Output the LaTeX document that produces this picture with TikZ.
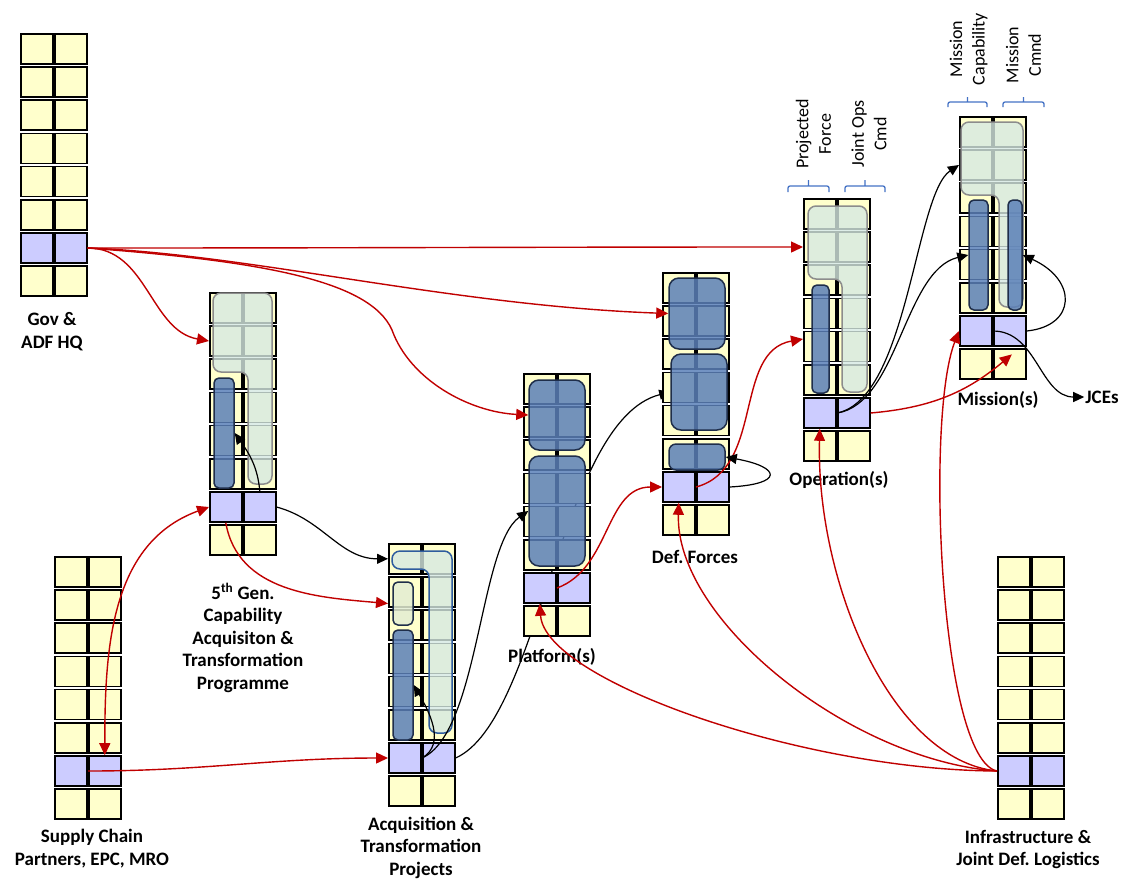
\documentclass[tikz,border=0pt]{standalone}
\usepackage{fontspec}
\setmainfont{Carlito}
\usetikzlibrary{arrows.meta,calc}
\pgfdeclarelayer{background}
\pgfsetlayers{background,main}
\frenchspacing

\definecolor{cellyellow}{HTML}{FFFFCC}
\definecolor{cellpurple}{HTML}{CCCCFF}
\definecolor{boxblue}{HTML}{5B80B8}
\definecolor{boxedge}{HTML}{1F2E4A}
\definecolor{panelfill}{HTML}{D6E9E2}
\definecolor{paneledge}{HTML}{8C8C8C}
\definecolor{panelblue}{HTML}{2E5C9E}
\definecolor{barfill}{HTML}{E3EDD3}
\definecolor{linkred}{HTML}{C00000}
\definecolor{bracketblue}{HTML}{4472C4}

\tikzset{
  cell/.style={draw=black, line width=1.6pt, minimum width=32pt, minimum height=30pt, inner sep=0pt, fill=cellyellow},
  bluebox/.style={draw=boxedge, line width=1.5pt, fill=boxblue, fill opacity=0.85, rounded corners=10pt, inner sep=0pt},
  bluebar/.style={bluebox, rounded corners=5pt},
  lightpanel/.style={draw=paneledge, line width=1.5pt, fill=panelfill, fill opacity=0.8, rounded corners=8pt},
  redlink/.style={draw=linkred, line width=1.4pt, >={Triangle[length=12pt,width=11pt]}, ->},
  blacklink/.style={draw=black, line width=1.2pt, >={Triangle[length=11pt,width=10pt]}, ->},
  lbl/.style={font=\fontsize{19}{22.5}\selectfont\bfseries, align=center, inner sep=1pt},
  collbl/.style={font=\fontsize{18}{22.5}\selectfont, align=center, rotate=90, inner sep=0pt},
  bracket/.style={draw=bracketblue, line width=1.3pt, rounded corners=2pt},
}

\begin{document}
\begin{tikzpicture}[x=1pt,y=1pt]
\useasboundingbox (0,0) rectangle (1126,-879);

% the nine stacks, row 7 is the interface row
\foreach \s/\sx/\sy in {gov/20/33, cap/209/292, acq/388/543, plat/523/373, def/662/272, ops/803/198, mis/959/116, sup/54/556, inf/997/556}{
  \foreach \r in {1,...,8}{
    \foreach \c in {1,2}{
      \ifnum\r=7 \def\cf{cellpurple}\else\def\cf{cellyellow}\fi
      \node[cell, fill=\cf] (\s-\r-\c) at ({\sx+16.8+(\c-1)*34},{-(\sy+15.8+(\r-1)*33.2)}) {};
    }
  }
}

% overlays
\draw[lightpanel] (213,-293) -- (272,-293) -- (272,-484) -- (248,-484) -- (248,-372) -- (213,-372) -- cycle;
\node[bluebar, minimum width=20pt, minimum height=110pt] (capbar) at (224,-433) {};

\draw[lightpanel, draw=panelblue] (392,-551) -- (452,-551) -- (452,-733) -- (429,-733) -- (429,-569) -- (392,-569) -- cycle;
\node[bluebar, fill=barfill, minimum width=20pt, minimum height=43pt] (acqtop) at (403,-603.5) {};
\node[bluebar, minimum width=20pt, minimum height=110pt] (acqbar) at (403,-685) {};

\node[bluebox, minimum width=56pt, minimum height=70pt] (platbox1) at (557,-415) {};
\node[bluebox, minimum width=56pt, minimum height=110pt] (platbox2) at (557,-511) {};

\node[bluebox, minimum width=56pt, minimum height=71pt] (defbox1) at (697,-313.5) {};
\node[bluebox, minimum width=56pt, minimum height=76pt] (defbox2) at (699,-392) {};
\node[bluebox, rounded corners=7pt, minimum width=56pt, minimum height=26pt] (defbox3) at (697,-457) {};

\draw[lightpanel] (808,-206) -- (867,-206) -- (867,-392) -- (842,-392) -- (842,-279) -- (808,-279) -- cycle;
\node[bluebar, minimum width=17pt, minimum height=108pt] (opsbar) at (820.5,-339) {};

\draw[lightpanel] (961,-122) -- (1023,-122) -- (1023,-307) -- (999,-307) -- (999,-195) -- (961,-195) -- cycle;
\node[bluebar, minimum width=19pt, minimum height=110pt] (misbar1) at (978.5,-255) {};
\node[bluebar, minimum width=14pt, minimum height=110pt] (misbar2) at (1015,-255) {};

% labels
\node[lbl] (govlbl) at (52,-331.5) {Gov \&\\ADF HQ};
\node[lbl] (caplbl) at (243,-638) {5\textsuperscript{th} Gen.\\Capability\\Acquisiton \&\\Transformation\\Programme};
\node[lbl] (acqlbl) at (421,-847.5) {Acquisition \&\\Transformation\\Projects};
\node[lbl] (platlbl) at (552,-657) {Platform(s)};
\node[lbl] (deflbl) at (695,-557) {Def. Forces};
\node[lbl] (opslbl) at (839,-480) {Operation(s)};
\node[lbl] (mislbl) at (998,-400) {Mission(s)};
\node[lbl] (jces) at (1102,-397) {JCEs};
\node[lbl] (suplbl) at (92,-848.5) {Supply Chain\\Partners, EPC, MRO};
\node[lbl] (inflbl) at (1028,-849.5) {Infrastructure \&\\Joint Def. Logistics};

\node[collbl] (pflbl) at (813.5,-134) {Projected\\Force};
\node[collbl] (jolbl) at (869,-134) {Joint Ops\\Cmd};
\node[collbl] (mclbl) at (968.5,-49) {Mission\\Capability};
\node[collbl] (mnlbl) at (1023.5,-55) {Mission\\Cmnd};

\draw[bracket] (788,-192) -- (788,-186) -- (829,-186) -- (829,-192) (808.5,-186) -- (808.5,-180);
\draw[bracket] (845,-192) -- (845,-186) -- (885,-186) -- (885,-192) (865,-186) -- (865,-180);
\draw[bracket] (948,-107) -- (948,-102) -- (987,-102) -- (987,-107) (967.5,-102) -- (967.5,-97);
\draw[bracket] (1003,-107) -- (1003,-102) -- (1044,-102) -- (1044,-107) (1023.5,-102) -- (1023.5,-97);

% Gov & ADF HQ
\draw[redlink] (gov-7-2.east) to[out=0,in=180] (ops-2-1.west);
\draw[redlink] (gov-7-2.east) to[out=0,in=170] (cap-2-1.west);
\draw[redlink] (gov-7-2.east) .. controls +(162,-6) and +(-219,8) .. (defbox1.west);
\draw[redlink] (gov-7-2.east) .. controls +(172,-13) and +(-22,50) .. (392,-330)
  .. controls +(18,-50) and +(-59,3) .. (platbox1.west);

% supply chain
\draw[redlink,<->] (cap-7-1.west) to[out=200,in=90] (sup-7-2.north);
\draw[redlink] (sup-7-2.west) to[out=0,in=180] (acq-7-1.west);

% capability programme
\draw[redlink] (cap-7-1.south) to[out=-80,in=175] (acq-2-1.west |- acqtop.west);
\draw[blacklink] (cap-7-2.east) to[out=-15,in=180] (acq-1-1.west);
\draw[blacklink] (cap-7-2.north) to[out=95,in=-55] (capbar.east);

% acquisition projects
\draw[blacklink] (acq-7-2.west) to[out=30,in=-60] (acqbar.east);
\draw[blacklink] (acq-7-2.west) .. controls +(57,25) and +(-49,-34) .. (platbox2.west);
\begin{pgfonlayer}{background}
\draw[blacklink] (acq-7-2.east) .. controls +(85,38) and +(-111,-28) .. (defbox2.west);
\end{pgfonlayer}

% platforms and forces
\draw[redlink] (plat-7-2.west) to[out=20,in=180] (def-7-1.west);
\draw[redlink] (def-7-2.west) to[out=15,in=190] (ops-5-1.west |- opsbar.west);
\draw[blacklink] (def-7-2.east) .. controls +(55,3) and +(55,-10) .. (defbox3.east);

% operations
\draw[redlink] (ops-7-2.east) to[out=5,in=220] ($(mis-8-2.north)+(2,-6)$);
\draw[blacklink] (ops-7-2.west) .. controls +(71,14) and +(-44,-29) .. (mis-2-1.west);
\draw[blacklink] (ops-7-2.west) .. controls +(61,9) and +(-64,-15) .. (misbar1.west);

% missions
\draw[blacklink] (mis-7-2.east) .. controls +(50,5) and +(55,-25) .. (misbar2.east);
\draw[blacklink] (mis-7-2.west) to[out=0,in=180] (jces.west);

% infrastructure
\draw[redlink] (inf-7-1.west) .. controls +(-57,12) and +(-34,-87) .. (mis-7-1.west);
\draw[redlink] (inf-7-1.west) .. controls +(-107,11) and +(-4,-151) .. (ops-7-1.south);
\draw[redlink] (inf-7-1.west) .. controls +(-147,11) and +(-4,-117) .. (def-7-1.south);
\draw[redlink] (inf-7-1.west) .. controls +(-197,1) and +(5,-76) .. (plat-7-1.south);
\end{tikzpicture}
\end{document}
